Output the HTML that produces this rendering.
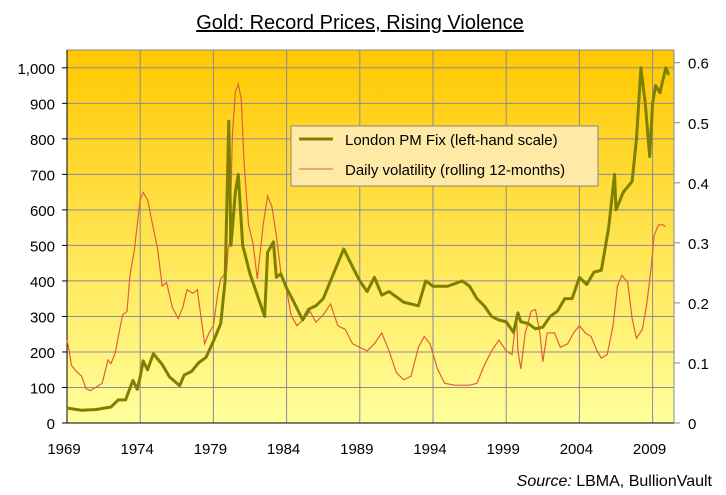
<!DOCTYPE html>
<html><head><meta charset="utf-8"><style>
body{margin:0;background:#fff;}
svg{display:block;font-family:"Liberation Sans",Arial,sans-serif;}
</style></head><body>
<svg id="chart" width="726" height="495">
<defs><linearGradient id="bg" x1="0" y1="0" x2="0" y2="1"><stop offset="0" stop-color="#ffc800"/><stop offset="1" stop-color="#ffff9c"/></linearGradient></defs>
<text x="360" y="29" text-anchor="middle" font-size="20" text-decoration="underline" fill="#000">Gold: Record Prices, Rising Violence</text>
<rect x="67" y="50" width="607" height="373" fill="url(#bg)" stroke="#888"/>
<g id="grid"></g><g id="axes"></g><g id="series"></g>
<g>
<rect x="291" y="126" width="307" height="60" fill="#ffe9a6" stroke="#888"/>
<line x1="299" y1="139" x2="333" y2="139" stroke="#808000" stroke-width="3"/>
<text x="345" y="145" font-size="15">London PM Fix (left-hand scale)</text>
<line x1="299" y1="169" x2="333" y2="169" stroke="#e0603a" stroke-width="1"/>
<text x="345" y="175" font-size="15">Daily volatility (rolling 12-months)</text>
</g>
<text x="712" y="486" text-anchor="end" font-size="16"><tspan font-style="italic">Source:</tspan> LBMA, BullionVault</text>
</svg>
<script>
const goldYears=[1969,1970,1971,1972,1972.5,1973,1973.5,1973.8,1974,1974.2,1974.5,1974.9,1975.5,1976,1976.7,1977,1977.5,1978,1978.5,1979,1979.5,1979.8,1980.05,1980.2,1980.5,1980.7,1981,1981.5,1982.5,1982.7,1983.1,1983.3,1983.6,1984,1984.5,1985.1,1985.5,1986,1986.5,1987,1987.9,1988.5,1989,1989.5,1990,1990.5,1991,1992,1993,1993.5,1994,1995,1996,1996.5,1997,1997.5,1998,1998.5,1999,1999.5,1999.8,2000,2000.5,2001,2001.5,2002,2002.5,2003,2003.5,2004,2004.5,2005,2005.5,2006,2006.4,2006.5,2007,2007.6,2007.9,2008.2,2008.5,2008.8,2009,2009.2,2009.5,2009.9,2010.1];
const goldPrices=[42,36,38,45,65,65,120,95,130,175,150,195,165,130,105,135,145,170,185,230,280,400,850,500,650,700,500,420,300,480,510,410,420,380,340,290,320,330,350,400,490,440,400,370,410,360,370,340,330,400,385,385,400,385,350,330,300,290,285,255,310,285,280,265,270,300,315,350,350,410,390,425,430,550,700,600,650,680,800,1000,900,750,900,950,930,1000,980];
const volYears=[1969,1969.15,1969.3,1969.6,1970,1970.3,1970.6,1971,1971.4,1971.8,1972,1972.3,1972.6,1972.8,1973.1,1973.3,1973.6,1973.8,1974,1974.2,1974.5,1974.8,1975.2,1975.5,1975.8,1976.2,1976.6,1976.9,1977.2,1977.6,1977.9,1978.2,1978.4,1978.7,1979,1979.3,1979.5,1979.9,1980,1980.1,1980.3,1980.5,1980.7,1980.9,1981.1,1981.4,1981.7,1982,1982.4,1982.7,1983,1983.3,1983.6,1984,1984.3,1984.7,1985.2,1985.6,1986,1986.5,1987,1987.5,1988,1988.5,1989,1989.5,1990,1990.5,1991,1991.5,1992,1992.5,1993,1993.4,1993.8,1994.3,1994.8,1995.5,1996.5,1997,1997.5,1998,1998.5,1999,1999.4,1999.7,1999.8,2000,2000.3,2000.7,2001,2001.3,2001.5,2001.8,2002.3,2002.7,2003.2,2003.6,2004,2004.4,2004.8,2005.2,2005.5,2005.9,2006.3,2006.6,2006.9,2007.3,2007.6,2007.9,2008.3,2008.6,2008.9,2009.1,2009.4,2009.7,2009.9];
const volValues=[0.138,0.12,0.096,0.087,0.078,0.057,0.054,0.06,0.066,0.105,0.099,0.117,0.156,0.18,0.186,0.246,0.288,0.33,0.372,0.384,0.372,0.336,0.288,0.228,0.234,0.192,0.174,0.192,0.222,0.216,0.222,0.168,0.132,0.15,0.162,0.216,0.24,0.252,0.288,0.3,0.48,0.552,0.564,0.54,0.432,0.33,0.3,0.24,0.33,0.378,0.36,0.312,0.252,0.222,0.18,0.162,0.174,0.186,0.168,0.18,0.198,0.162,0.156,0.132,0.126,0.12,0.132,0.15,0.12,0.084,0.072,0.078,0.126,0.144,0.132,0.09,0.066,0.063,0.063,0.066,0.096,0.12,0.138,0.12,0.114,0.18,0.12,0.09,0.15,0.186,0.189,0.15,0.102,0.15,0.15,0.126,0.132,0.15,0.162,0.15,0.144,0.12,0.108,0.114,0.162,0.228,0.246,0.234,0.174,0.141,0.156,0.198,0.258,0.312,0.33,0.33,0.327];
const leftTicks=[0,100,200,300,400,500,600,700,800,900,1000];
const leftLabels=["0","100","200","300","400","500","600","700","800","900","1,000"];
const rightTicks=[0,0.1,0.2,0.3,0.4,0.5,0.6];
const xTicks=[1969,1974,1979,1984,1989,1994,1999,2004,2009];
const NS="http://www.w3.org/2000/svg";
const xS=y=>67+(y-1969)*14.64;
const yL=v=>423-v*0.3552;
const yR=v=>423-v*600.5;
function mk(tag,attrs,parent,txt){const e=document.createElementNS(NS,tag);for(const k in attrs)e.setAttribute(k,attrs[k]);if(txt!==undefined)e.textContent=txt;document.getElementById(parent).appendChild(e);return e;}
leftTicks.forEach((t,i)=>{
 if(t>0){const g=mk('line',{x1:67,x2:674,y1:yL(t),y2:yL(t),stroke:'#8a8aa0','stroke-width':1},'grid');
 
 }
 const l=mk('text',{x:55,y:yL(t)+6,'text-anchor':'end','font-size':15},'axes',leftLabels[i]);
 
 
 mk('line',{x1:62,x2:67,y1:yL(t),y2:yL(t),stroke:'#000'},'axes');
});
rightTicks.forEach(t=>{
 mk('line',{x1:674,x2:680,y1:yR(t),y2:yR(t),stroke:'#888'},'axes');
 const l=mk('text',{x:688,y:yR(t)+6,'font-size':15},'axes',String(t));
 
 
});
xTicks.forEach(t=>{
 if(t>1969){const g=mk('line',{x1:xS(t),x2:xS(t),y1:50,y2:423,stroke:'#8a8aa0'},'grid');
 
 }
 const l=mk('text',{x:xS(t)-3,y:454,'text-anchor':'middle','font-size':15},'axes',String(t));
 
 
});
mk('line',{x1:67,x2:674,y1:423,y2:423,stroke:'#000'},'axes');
mk('line',{x1:67,x2:67,y1:50,y2:423,stroke:'#000'},'axes');
const vp=mk('polyline',{points:volYears.map((y,i)=>xS(y)+','+yR(volValues[i])).join(' '),fill:'none',stroke:'#e0603a','stroke-width':1.2},'series');


const gp=mk('polyline',{points:goldYears.map((y,i)=>xS(y)+','+yL(goldPrices[i])).join(' '),fill:'none',stroke:'#808000','stroke-width':3,'stroke-linejoin':'round'},'series');


</script>
</body></html>
